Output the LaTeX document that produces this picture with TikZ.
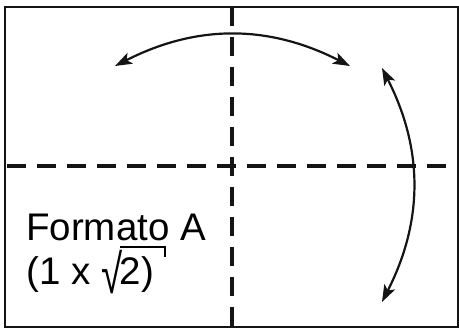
\documentclass[tikz,border=0pt]{standalone}
\usepackage{fontspec}
\setmainfont{Liberation Sans}
\usepackage{xcolor}
\usepackage{tikz}
\usetikzlibrary{arrows.meta, positioning, calc}
\definecolor{FoldBlack}{RGB}{20, 20, 20}
\newcommand\sqrtbar[1]{\setbox0\hbox{#1}\raisebox{-.21em}{\scalebox{1}[1.42]{√}}\kern-.06em\rlap{\rule[.97em]{\dimexpr\wd0+.25em\relax}{.055em}\rule[.74em]{.055em}{.285em}}\box0}

\begin{document}
\begin{tikzpicture}[x=1pt, y=-1pt,
    fold/.style={draw=FoldBlack, line width=3.4pt, dash pattern=on 19pt off 11pt},
    turn/.style={draw=FoldBlack, line width=2.2pt,
      {Stealth[length=17pt, width=12pt, inset=4pt]}-{Stealth[length=17pt, width=12pt, inset=4pt]}}]
  \useasboundingbox (0,0) rectangle (459,331);
  % sheet
  \draw[FoldBlack, line width=2pt] (5,7) rectangle (458,327);
  % folds
  \coordinate (foldtop) at (232,7);
  \coordinate (foldbottom) at (232,327);
  \coordinate (foldleft) at (7,166);
  \coordinate (foldright) at (453,166);
  \draw[fold] (foldtop) -- (foldbottom);
  \draw[fold] (foldleft) -- (foldright);
  % rotation arrows
  \coordinate (topleft) at (115,66);
  \coordinate (topright) at (350,66);
  \coordinate (rightup) at (382,68);
  \coordinate (rightdown) at (382,302);
  \draw[turn] (topleft) to[bend left=27] (topright);
  \draw[turn] (rightup) to[bend left=27] (rightdown);
  % label
  \node[anchor=base west, inner sep=0pt, font=\fontsize{38.5}{46}\selectfont]
    (format) at (26,241) {Formato A};
  \node[anchor=base west, inner sep=0pt, font=\fontsize{38.5}{46}\selectfont]
    (ratio) at (26,285) {(1 x \sqrtbar{2)}};
\end{tikzpicture}
\end{document}
